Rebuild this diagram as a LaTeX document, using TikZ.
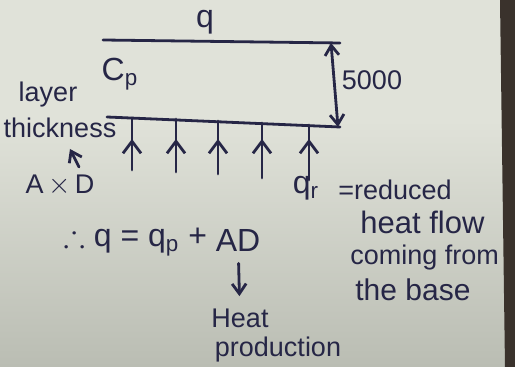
\documentclass[tikz,border=0pt]{standalone}
\usepackage{amssymb}
\usepackage{fontspec}
\setmainfont{Liberation Sans}
\usetikzlibrary{arrows.meta, positioning}
\definecolor{ink}{RGB}{38,38,70}
\definecolor{paperhi}{RGB}{224,226,217}
\definecolor{paperlo}{RGB}{186,189,179}
\definecolor{edge}{RGB}{58,50,44}

\begin{document}
\begin{tikzpicture}[
  x=0.5pt, y=-0.5pt,
  hw/.style={text=ink, inner sep=0pt, font=\fontsize{13.5}{16}\selectfont},
  big/.style={hw, font=\fontsize{16}{19}\selectfont},
  ln/.style={draw=ink, line width=1.4pt, line cap=round},
  arr/.style={ln, -{Straight Barb[length=5pt, width=7pt]}},
  uparr/.style={ln, -{Straight Barb[length=6pt, width=9pt]}},
]
% paper and table edge
\fill[paperhi] (0,0) rectangle (515,367);
\shade[top color=paperhi, bottom color=paperlo] (0,120) rectangle (515,367);
\fill[edge] (500,0) -- (515,0) -- (515,367) -- (505,367) -- cycle;
\useasboundingbox (0,0) rectangle (515,367);

% the layer
\draw[ln] (103,40) -- (340,43);
\draw[ln] (107,117) -- (340,127);
\coordinate (topR) at (331,43);
\coordinate (botR) at (338,127);
\draw[ln, {Straight Barb[length=5pt, width=7pt]}-{Straight Barb[length=5pt, width=7pt]}] (topR) -- (botR);

\node[big] (q) at (205,22) {q};
\node[big] (cp) at (120,74) {C\textsubscript{p}};
\node[hw] (thk) at (372,80) {5000};
\node[hw] (layer) at (48,95) {layer};
\node[hw] (thick) at (60,128) {thickness};

% heat flow from the base
\foreach \x/\yt/\yb in {132/118/170, 176/119/172, 218/121/174, 262/123/178, 309/125/180} {
  \draw[uparr] (\x,\yb) -- (\x,139);
  \draw[ln] (\x,141) -- (\x,\yt);
}

\node[hw] (axd) at (60,185) {A\,$\times$\,D};
\coordinate (axdtop) at (79,167);
\coordinate (thkfoot) at (70,149);
\draw[arr] (axdtop) -- (thkfoot);

% reduced heat flow
\node[big] (qr) at (306,188) {q\textsubscript{r}};
\node[hw, anchor=west] (red) at (338,190) {=reduced};
\node[hw, anchor=west, font=\fontsize{15.5}{18}\selectfont] (hf) at (360,222) {heat flow};
\node[hw, anchor=west] (cf) at (350,258) {coming from};
\node[hw, anchor=west, font=\fontsize{15}{18}\selectfont] (tb) at (355,290) {the base};

% balance
\node[big] (ad) at (238,240) {AD};
\node[big, left=4pt of ad] (eq) {$\therefore$ q = q\textsubscript{p} +};
\node[hw] (heat) at (240,318) {Heat};
\node[hw] (prod) at (278,350) {production};
\draw[arr, shorten <=6pt, shorten >=6pt] (ad) -- (heat);
\end{tikzpicture}
\end{document}
